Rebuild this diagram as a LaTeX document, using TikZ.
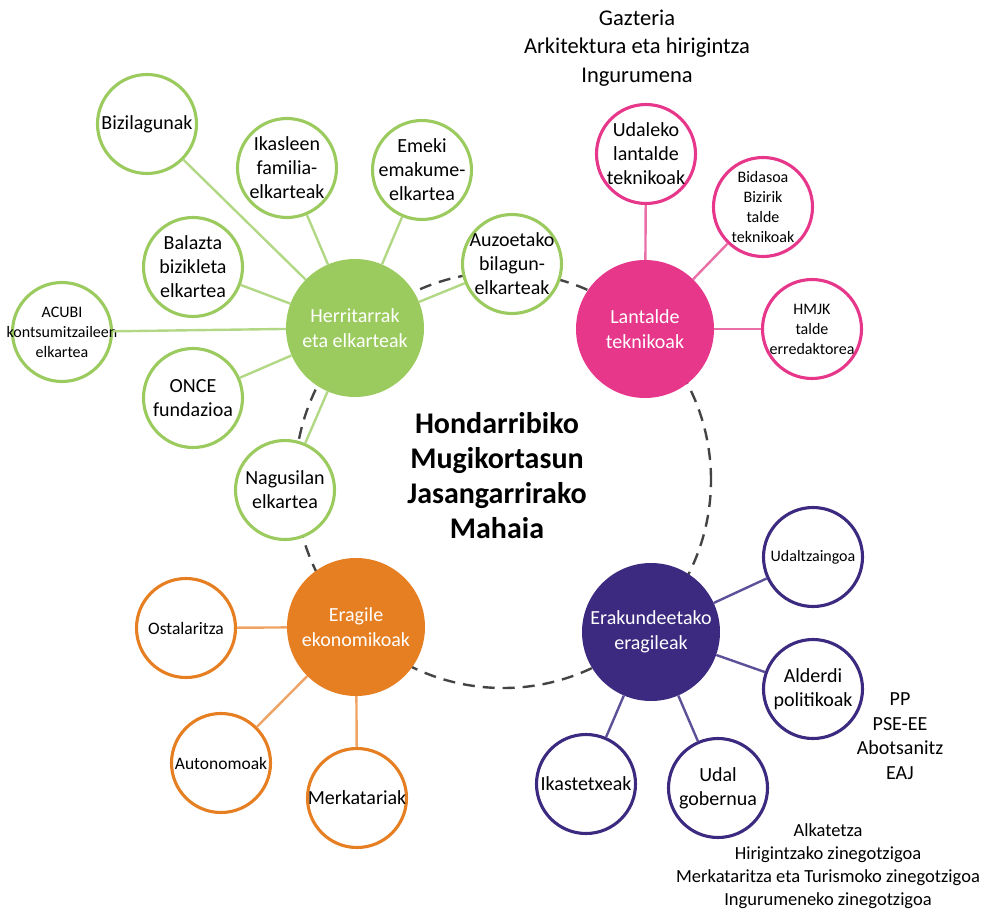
\documentclass[tikz,border=0pt]{standalone}
\usepackage{fontspec}
\setmainfont{Carlito}
\usetikzlibrary{positioning}
\definecolor{grn}{HTML}{9BCB5E}
\definecolor{grnline}{HTML}{B2D886}
\definecolor{pnk}{HTML}{E6378A}
\definecolor{pnkline}{HTML}{EA6FA6}
\definecolor{orng}{HTML}{E67E22}
\definecolor{orngline}{HTML}{EFA466}
\definecolor{prpl}{HTML}{3B2A80}
\definecolor{prplline}{HTML}{5D5098}
\definecolor{dashgray}{HTML}{444444}

\begin{document}
\begin{tikzpicture}[x=1pt, y=-1pt,
		hub/.style={circle, minimum size=138pt, inner sep=0pt, align=center, text=white, font=\fontsize{20}{25}\selectfont},
		sat/.style={circle, draw, fill=white, line width=3.1pt, minimum size=99pt, inner sep=0pt},
		every label/.style={align=center, text=black, font=\fontsize{20}{24}\selectfont},
		smalltxt/.style={font=\fontsize{16}{20}\selectfont},
		midtxt/.style={font=\fontsize{17.5}{22}\selectfont},
		note/.style 2 args={align=center, font=\fontsize{#1}{#2}\selectfont},
		lnk/.style={line width=2.4pt}]
				\useasboundingbox (0,0) rectangle (984,909);

				% the round table
				\draw[dashgray, line width=2.4pt, dash pattern=on 12pt off 8pt] (503,480) circle [radius=208pt];
				\node[align=center, font=\bfseries\fontsize{30}{35}\selectfont] (title) at (497,476) {Hondarribiko\\Mugikortasun\\Jasangarrirako\\Mahaia};

				% hubs
				\node[hub, fill=grn] (herri) at (355,328) {Herritarrak\\eta elkarteak};
				\node[hub, fill=pnk] (lantal) at (645,329) {Lantalde\\teknikoak};
				\node[hub, fill=orng] (eragile) at (356,627) {Eragile\\ekonomikoak};
				\node[hub, fill=prpl] (erakunde) at (651,632) {Erakundeetako\\eragileak};

				% herritarrak
				\node[sat, draw=grn, label={center:Bizilagunak}] (bizi) at (147,124) {};
				\node[sat, draw=grn, label={center:Ikasleen\\familia-\\elkarteak}] (ikas) at (287,168) {};
				\node[sat, draw=grn, label={center:Emeki\\emakume-\\elkartea}] (emeki) at (422,170) {};
				\node[sat, draw=grn, label={center:Balazta\\bizikleta\\elkartea}] (balaz) at (193,267) {};
				\node[sat, draw=grn, label={[smalltxt]center:ACUBI\\kontsumitzaileen\\elkartea}] (acubi) at (62,332) {};
				\node[sat, draw=grn, label={center:ONCE\\fundazioa}] (once) at (193,398) {};
				\node[sat, draw=grn, label={center:Auzoetako\\bilagun-\\elkarteak}] (auzo) at (512,264) {};
				\node[sat, draw=grn, label={center:Nagusilan\\elkartea}] (nagus) at (285,490) {};

				% lantaldeak
				\node[sat, draw=pnk, label={center:Udaleko\\lantalde\\teknikoak}] (udaleko) at (646,154) {};
				\node[sat, draw=pnk, label={[smalltxt]center:Bidasoa\\Bizirik\\talde\\teknikoak}] (bidas) at (763,207) {};
				\node[sat, draw=pnk, label={[smalltxt]center:HMJK\\talde\\erredaktorea}] (hmjk) at (812,329) {};

				% eragile ekonomikoak
				\node[sat, draw=orng, label={[midtxt]center:Ostalaritza}] (osta) at (186,628) {};
				\node[sat, draw=orng, label={[midtxt]center:Autonomoak}] (auton) at (221,763) {};
				\node[sat, draw=orng, label={center:Merkatariak}] (merk) at (357,798) {};

				% erakundeak
				\node[sat, draw=prpl, label={[smalltxt]center:Udaltzaingoa}] (udaltz) at (813,557) {};
				\node[sat, draw=prpl, label={center:Alderdi\\politikoak}] (alder) at (813,689) {};
				\node[sat, draw=prpl, label={center:Udal\\gobernua}] (gober) at (718,788) {};
				\node[sat, draw=prpl, label={center:Ikastetxeak}] (ikast) at (586,784) {};

				% notes
				\node[note={22.5}{28.5}] (sailak) at (637,48) {Gazteria\\Arkitektura eta hirigintza\\Ingurumena};
				\node[note={20}{24.5}] (alderdiak) at (900,736) {PP\\PSE-EE\\Abotsanitz\\EAJ};
				\node[note={18.5}{23}] (zinegotziak) at (828,866) {Alkatetza\\Hirigintzako zinegotzigoa\\Merkataritza eta Turismoko zinegotzigoa\\Ingurumeneko zinegotzigoa};

				\draw[lnk, grnline] (herri) -- (bizi);
				\draw[lnk, grnline] (herri) -- (ikas);
				\draw[lnk, grnline] (herri) -- (emeki);
				\draw[lnk, grnline] (herri) -- (balaz);
				\draw[lnk, grnline] (herri) -- (acubi);
				\draw[lnk, grnline] (herri) -- (once);
				\draw[lnk, grnline] (herri) -- (auzo);
				\draw[lnk, grnline] (herri) -- (nagus);
				\draw[lnk, pnkline] (lantal) -- (udaleko);
				\draw[lnk, pnkline] (lantal) -- (bidas);
				\draw[lnk, pnkline] (lantal) -- (hmjk);
				\draw[lnk, orngline] (eragile) -- (osta);
				\draw[lnk, orngline] (eragile) -- (auton);
				\draw[lnk, orngline] (eragile) -- (merk);
				\draw[lnk, prplline] (erakunde) -- (udaltz);
				\draw[lnk, prplline] (erakunde) -- (alder);
				\draw[lnk, prplline] (erakunde) -- (gober);
				\draw[lnk, prplline] (erakunde) -- (ikast);
			\end{tikzpicture}
\end{document}
